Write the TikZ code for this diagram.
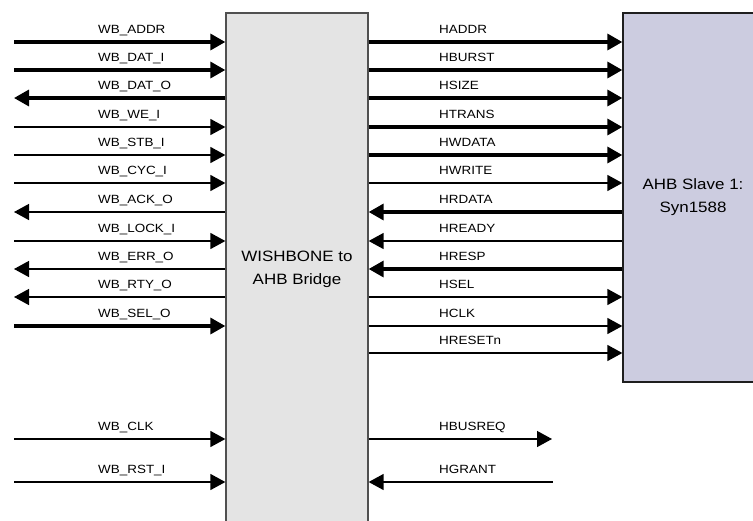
\documentclass[tikz,border=0pt]{standalone}
\usepackage{fontspec}
\setmainfont[FakeStretch=1.13]{Liberation Sans}
\usetikzlibrary{arrows.meta}
\definecolor{bridgefill}{RGB}{228,228,228}
\definecolor{bridgeline}{RGB}{80,80,80}
\definecolor{slavefill}{RGB}{204,204,224}
\definecolor{slaveline}{RGB}{30,30,30}
\begin{document}
\begin{tikzpicture}[x=1pt,y=-1pt,
  sigw/.style={line width=1.4pt},
  busw/.style={line width=3.3pt},
  fwd/.style={-{Triangle[length=15pt,width=16pt]}},
  bwd/.style={{Triangle[length=15pt,width=16pt]}-},
  lab/.style={anchor=base west, inner sep=0pt, font=\fontsize{11.9}{14}\selectfont},
  blk/.style={draw, line width=1.3pt, rectangle, inner sep=0pt, align=center,
              font=\fontsize{15}{23}\selectfont}]
\useasboundingbox (0,0) rectangle (753,520);
\node[blk, fill=bridgefill, draw=bridgeline, minimum width=142pt, minimum height=512pt]
  (bridge) at (297,269) {WISHBONE to\\AHB Bridge};
\node[blk, fill=slavefill, draw=slaveline, minimum width=140pt, minimum height=369pt]
  (slave) at (693,197.5) {AHB Slave 1:\\Syn1588};
% left side signals
\foreach \yy/\txt/\st/\io [count=\i] in {
  42/WB\_ADDR/busw/fwd, 70/WB\_DAT\_I/busw/fwd, 98/WB\_DAT\_O/busw/bwd,
  127/WB\_WE\_I/sigw/fwd, 155/WB\_STB\_I/sigw/fwd, 183/WB\_CYC\_I/sigw/fwd,
  212/WB\_ACK\_O/sigw/bwd, 241/WB\_LOCK\_I/sigw/fwd, 269/WB\_ERR\_O/sigw/bwd,
  297/WB\_RTY\_O/sigw/bwd, 326/WB\_SEL\_O/busw/fwd,
  439/WB\_CLK/sigw/fwd, 482/WB\_RST\_I/sigw/fwd} {
  \coordinate (wl\i) at (14,\yy);
  \node[lab] (wt\i) at (98,\yy-9) {\txt};
  \draw[\st,\io] (wl\i) -- (wl\i -| bridge.west);
}
% right side signals to/from slave
\foreach \yy/\txt/\st/\io [count=\i] in {
  42/HADDR/busw/fwd, 70/HBURST/busw/fwd, 98/HSIZE/busw/fwd,
  127/HTRANS/busw/fwd, 155/HWDATA/busw/fwd, 183/HWRITE/sigw/fwd,
  212/HRDATA/busw/bwd, 241/HREADY/sigw/bwd, 269/HRESP/busw/bwd,
  297/HSEL/sigw/fwd, 326/HCLK/sigw/fwd, 353/HRESETn/sigw/fwd} {
  \coordinate (hr\i) at (0,\yy);
  \node[lab] (ht\i) at (439,\yy-9) {\txt};
  \draw[\st,\io] (bridge.east |- hr\i) -- (slave.west |- hr\i);
}
% arbiter signals
\coordinate (busreq) at (552,439);
\coordinate (grant) at (553,482);
\node[lab] (tbusreq) at (439,430) {HBUSREQ};
\node[lab] (tgrant) at (439,473) {HGRANT};
\draw[sigw,fwd] (bridge.east |- busreq) -- (busreq);
\draw[sigw,bwd] (bridge.east |- grant) -- (grant);
\end{tikzpicture}
\end{document}
